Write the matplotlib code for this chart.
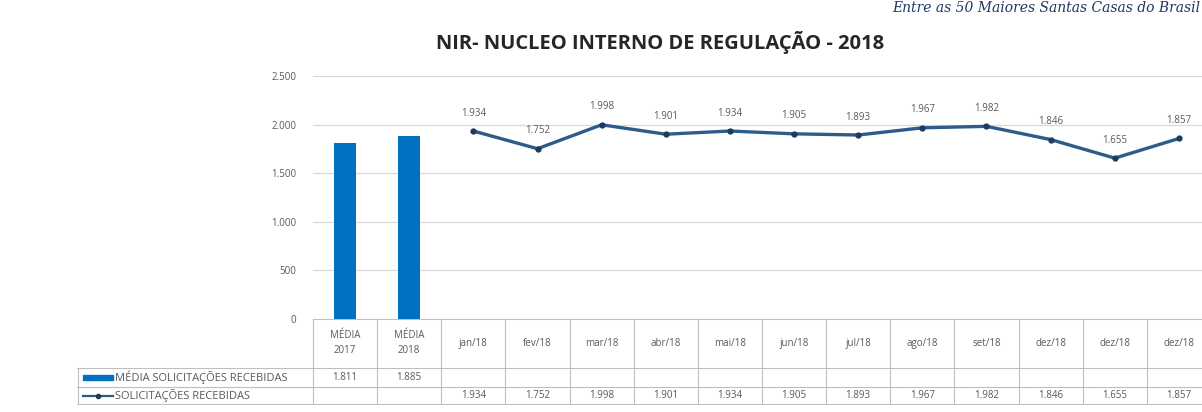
import matplotlib.pyplot as plt
from matplotlib.lines import Line2D
from matplotlib.patches import Rectangle

# DATA #######################################################################

categories = ['MÉDIA\n2017', 'MÉDIA\n2018', 'jan/18', 'fev/18', 'mar/18', 'abr/18',
              'mai/18', 'jun/18', 'jul/18', 'ago/18', 'set/18', 'dez/18', 'dez/18', 'dez/18']
media_values = [1811, 1885]
mensal_values = [1934, 1752, 1998, 1901, 1934, 1905, 1893, 1967, 1982, 1846, 1655, 1857]
y_ticks = [0, 500, 1000, 1500, 2000, 2500]

bar_name = 'MÉDIA SOLICITAÇÕES RECEBIDAS'
line_name = 'SOLICITAÇÕES RECEBIDAS'
title = 'NIR- NUCLEO INTERNO DE REGULAÇÃO - 2018'
corner_text = 'Entre as 50 Maiores Santas Casas do Brasil'

# STYLE ######################################################################

W, H = 1202, 412
BAR_COLOR = '#0070C0'
LINE_COLOR = '#2E5C8A'
MARK = '#1F3B5C'
TEXT_GRAY = '#595959'
GRID = '#D9D9D9'
BORDER = '#BFBFBF'
FS = 7
plt.rcParams['font.family'] = ['Open Sans', 'DejaVu Sans']


def fmt(v):
    return f'{v:,}'.replace(',', '.')


def px(x0, y0, x1, y1):
    # pixel box -> figure fraction [left, bottom, width, height]
    return [x0 / W, 1 - y1 / H, (x1 - x0) / W, (y1 - y0) / H]


n = len(categories)
plot_left, plot_right = 313, 1211
col_w = (plot_right - plot_left) / n
table_left = 77

fig = plt.figure(figsize=(W / 100, H / 100), dpi=100)

# CHART ######################################################################

ax = fig.add_axes(px(plot_left, 76, plot_right, 319))
xs = list(range(n))
ax.bar(xs[:len(media_values)], media_values, width=0.34, color=BAR_COLOR, zorder=3)
line_x = xs[len(media_values):]
ax.plot(line_x, mensal_values, color=LINE_COLOR, lw=2.4, marker='o', ms=3.5,
        mfc=MARK, mec=MARK, zorder=4)
for x, v in zip(line_x, mensal_values):
    ax.annotate(fmt(v), (x, v), xytext=(0, 9), textcoords='offset points',
                ha='center', va='bottom', fontsize=FS, color=TEXT_GRAY)

ax.set_xlim(-0.5, n - 0.5)
ax.set_ylim(0, 2500)
ax.set_yticks(y_ticks)
ax.set_yticklabels([fmt(t) for t in y_ticks], fontsize=FS, color=TEXT_GRAY)
ax.tick_params(axis='y', length=0, pad=12)
ax.set_xticks([])
ax.grid(axis='y', color=GRID, lw=0.9, zorder=0)
for s in ['top', 'right', 'left', 'bottom']:
    ax.spines[s].set_visible(False)

# DATA TABLE #################################################################

tab = fig.add_axes(px(table_left, 319, plot_right, 405))
extra = (plot_left - table_left) / col_w
tab.set_xlim(-0.5 - extra, n - 0.5)
tab.set_ylim(405, 319)
tab.axis('off')

kw = dict(color=BORDER, lw=0.8)
# header row: only over the category columns
tab.plot([-0.5, n - 0.5], [319.5, 319.5], **kw)
for i in range(n + 1):
    tab.plot([i - 0.5, i - 0.5], [319, 405], **kw)
for y in [368, 387, 404.5]:
    tab.plot([-0.5 - extra, n - 0.5], [y, y], **kw)
tab.plot([-0.5 - extra + 0.01, -0.5 - extra + 0.01], [368, 405], **kw)

for i, c in enumerate(categories):
    tab.text(i, 343.5, c, ha='center', va='center', fontsize=FS,
             color=TEXT_GRAY, linespacing=1.5)
for i, v in enumerate(media_values):
    tab.text(i, 377.5, fmt(v), ha='center', va='center', fontsize=FS, color=TEXT_GRAY)
for x, v in zip(line_x, mensal_values):
    tab.text(x, 396, fmt(v), ha='center', va='center', fontsize=FS, color=TEXT_GRAY)

# legend keys in the table
key_w = 30 / col_w
lx0 = -0.5 - extra + 6 / col_w
tab.add_patch(Rectangle((lx0, 375), key_w, 5, color=BAR_COLOR))
tab.text(lx0 + key_w + 0.03, 377.5, bar_name, ha='left', va='center',
         fontsize=8, color=TEXT_GRAY)
tab.add_line(Line2D([lx0, lx0 + key_w], [396, 396], color=LINE_COLOR, lw=1.6))
tab.plot([lx0 + key_w / 2], [396], 'o', ms=3, color=MARK)
tab.text(lx0 + key_w + 0.03, 396, line_name, ha='left', va='center',
         fontsize=8, color=TEXT_GRAY)

# TEXTS ######################################################################

fig.text(0.549, 1 - 43 / H, title, ha='center', va='center', fontsize=14.5,
         fontweight='bold', color='#262626')
fig.text(1 - 2 / W, 1 - 8 / H, corner_text, ha='right', va='center', fontsize=10,
         style='italic', family=['DejaVu Serif'], color='#1F3864')

fig.savefig('out.png', dpi=100)
